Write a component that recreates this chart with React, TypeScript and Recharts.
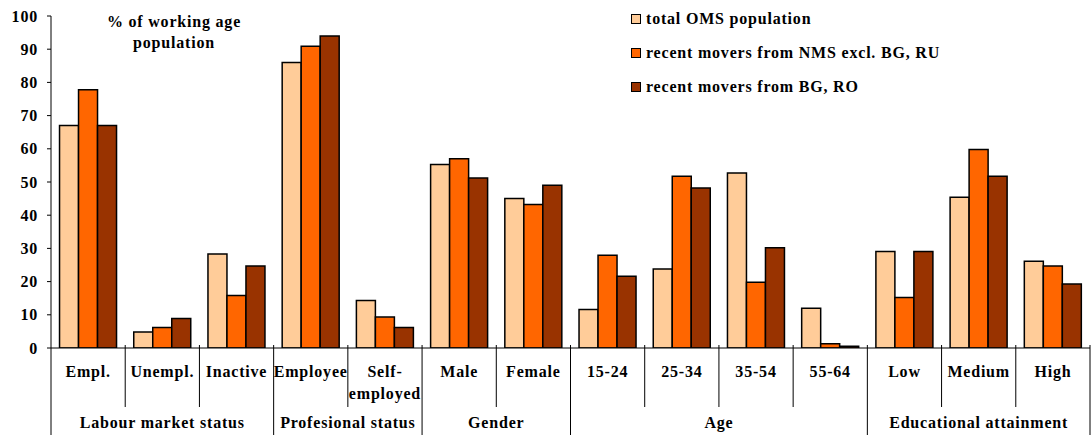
import React from 'react';
import { BarChart, Bar, XAxis, YAxis, Legend } from 'recharts';

const categories = [
  'Empl.', 'Unempl.', 'Inactive', 'Employee', 'Self-\nemployed', 'Male', 'Female',
  '15-24', '25-34', '35-54', '55-64', 'Low', 'Medium', 'High',
];
const totalOMS = [67.0, 4.8, 28.3, 86.0, 14.3, 55.3, 45.0, 11.6, 23.8, 52.7, 12.0, 29.1, 45.4, 26.1];
const moversNMS = [77.8, 6.2, 15.8, 90.9, 9.3, 57.0, 43.2, 27.9, 51.7, 19.8, 1.3, 15.2, 59.8, 24.7];
const moversBGRO = [67.0, 8.9, 24.7, 94.0, 6.2, 51.2, 49.0, 21.6, 48.2, 30.2, 0.5, 29.1, 51.7, 19.3];
const groupNames = ['Labour market status', 'Profesional status', 'Gender', 'Age', 'Educational attainment'];
const groupSizes = [3, 2, 2, 4, 3];
const yTicks = [0, 10, 20, 30, 40, 50, 60, 70, 80, 90, 100];
const seriesNames = ['total OMS population', 'recent movers from NMS excl. BG, RU', 'recent movers from BG, RO'];
const seriesColors = ['#FFCC99', '#FF6600', '#993300'];
const titleLines = ['% of working age', 'population'];

const data = categories.map((name, i) => ({
  name,
  total: totalOMS[i],
  nms: moversNMS[i],
  bgro: moversBGRO[i],
}));

const FONT = '"Liberation Serif", "Times New Roman", serif';
const textStyle = { fontFamily: FONT, fontWeight: 700, fontSize: 16, letterSpacing: 0.8 } as const;

const CategoryTick = (props: any) => {
  const { x, y, payload, index } = props;
  const half = payload && typeof payload.offset === 'number' && payload.offset > 0 ? payload.offset : 37.1;
  const band = half * 2;
  const idx = payload && typeof payload.index === 'number' ? payload.index : index;
  let start = 0;
  let gi = 0;
  for (let g = 0; g < groupSizes.length; g++) {
    if (idx < start + groupSizes[g]) { gi = g; break; }
    start += groupSizes[g];
  }
  const isGroupStart = idx === start;
  const isGroupEnd = idx === start + groupSizes[gi] - 1;
  const lines = String(payload.value).split('\n');
  const bottom = 435;
  return (
    <g>
      {idx === 0 && (
        <line x1={x - half} x2={x - half} y1={y} y2={bottom} stroke="#000" strokeWidth={1} />
      )}
      <line x1={x + half} x2={x + half} y1={y - 3} y2={isGroupEnd ? bottom : y + 59} stroke="#000" strokeWidth={1} />
      {lines.map((l, k) => (
        <text key={k} x={x} y={y + 29 + k * 22} textAnchor="middle" fill="#000" style={textStyle}>
          {l}
        </text>
      ))}
      {isGroupStart && (
        <text x={x - half + (groupSizes[gi] * band) / 2} y={y + 80} textAnchor="middle" fill="#000" style={textStyle}>
          {groupNames[gi]}
        </text>
      )}
    </g>
  );
};

const LegendContent = () => {
  return (
    <div style={{ ...textStyle, color: '#000' }}>
      {seriesNames.map((n: string, i: number) => (
        <div key={i} style={{ display: 'flex', alignItems: 'center', height: 34, whiteSpace: 'nowrap' }}>
          <span
            style={{
              display: 'inline-block',
              width: 8,
              height: 8,
              border: '1px solid #000',
              background: seriesColors[i],
              marginRight: 5,
            }}
          />
          <span>{n}</span>
        </div>
      ))}
    </div>
  );
};

export default function App() {
  return (
    <div style={{ position: 'absolute', left: 0, top: 0, width: 1092, height: 435, background: '#fff' }}>
      <BarChart
        width={1092}
        height={435}
        data={data}
        margin={{ top: 16, right: 2, left: 0, bottom: 0 }}
        barCategoryGap="11.5%"
        barGap={0}
      >
        <XAxis
          dataKey="name"
          interval={0}
          tickLine={false}
          tickSize={0}
          tickMargin={0}
          height={87}
          axisLine={{ stroke: '#000', strokeWidth: 1 }}
          tick={CategoryTick}
        />
        <YAxis
          width={51}
          domain={[0, 100]}
          ticks={yTicks}
          allowDataOverflow
          tickSize={4}
          tickMargin={9}
          axisLine={{ stroke: '#000', strokeWidth: 1 }}
          tickLine={{ stroke: '#000', strokeWidth: 1 }}
          tick={{ fill: '#000', ...textStyle }}
        />
        <Legend
          layout="vertical"
          align="center"
          verticalAlign="middle"
          content={LegendContent}
          wrapperStyle={{ position: 'absolute', left: 631, top: 2, width: 440 }}
        />
        <Bar dataKey="total" name={seriesNames[0]} fill={seriesColors[0]} stroke="#000" strokeWidth={1.5} isAnimationActive={false} />
        <Bar dataKey="nms" name={seriesNames[1]} fill={seriesColors[1]} stroke="#000" strokeWidth={1.5} isAnimationActive={false} />
        <Bar dataKey="bgro" name={seriesNames[2]} fill={seriesColors[2]} stroke="#000" strokeWidth={1.5} isAnimationActive={false} />
      </BarChart>
      <div
        style={{
          position: 'absolute',
          left: 74,
          top: 11,
          width: 200,
          textAlign: 'center',
          lineHeight: '21px',
          color: '#000',
          ...textStyle,
        }}
      >
        {titleLines.map((t, i) => (
          <div key={i}>{t}</div>
        ))}
      </div>
    </div>
  );
}
